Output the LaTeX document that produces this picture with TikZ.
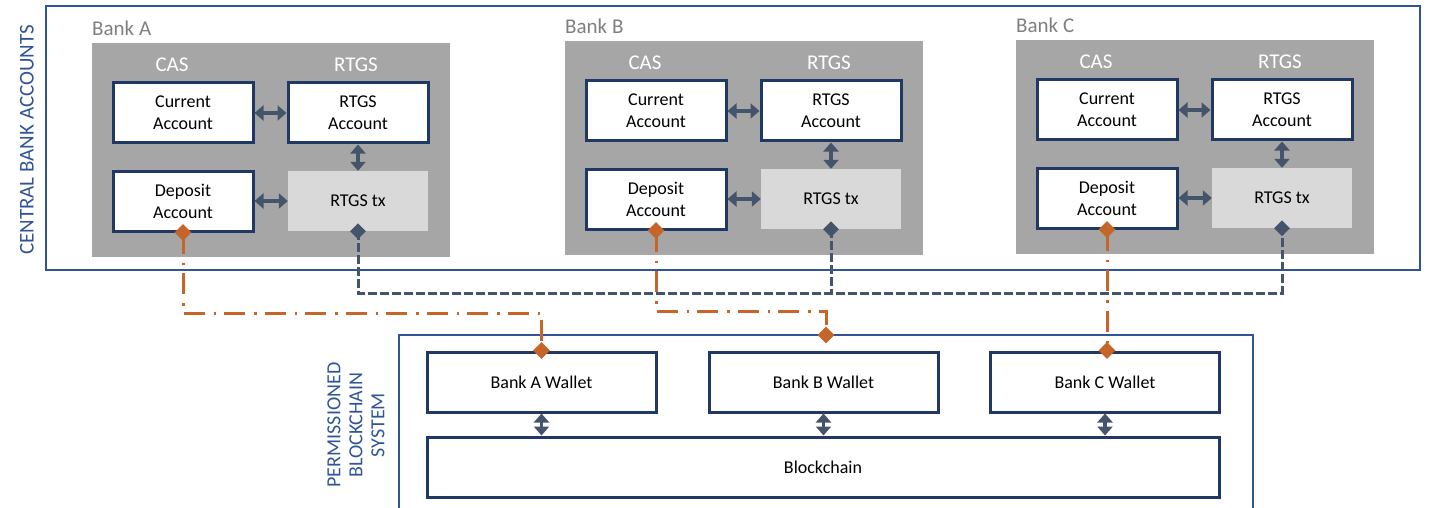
\documentclass[tikz,border=0pt]{standalone}
\usepackage{fontspec}
\setmainfont{Carlito}
\usetikzlibrary{arrows.meta,shapes.geometric}

\definecolor{frameblue}{HTML}{2F5597}
\definecolor{navy}{HTML}{1F3864}
\definecolor{panelgray}{HTML}{A6A6A6}
\definecolor{txgray}{HTML}{D9D9D9}
\definecolor{banklbl}{HTML}{7F7F7F}
\definecolor{slate}{HTML}{44546A}
\definecolor{rust}{HTML}{C5652A}

\tikzset{
  frame/.style={draw=frameblue, line width=2.5pt},
  panelbox/.style={fill=panelgray, minimum width=358pt, minimum height=214pt, inner sep=0pt, outer sep=0pt},
  banktitle/.style={text=banklbl, font=\fontsize{21}{25}\selectfont, inner sep=0pt},
  sectitle/.style={text=white, font=\fontsize{21}{25}\selectfont, inner sep=0pt},
  acct/.style={draw=navy, line width=3pt, fill=white, minimum width=140pt, minimum height=60pt,
               inner sep=0pt, align=center, font=\fontsize{18}{22}\selectfont},
  txbox/.style={fill=txgray, minimum width=140pt, minimum height=60pt, inner sep=0pt,
               font=\fontsize{18}{22}\selectfont},
  wallet/.style={draw=navy, line width=3pt, fill=white, minimum width=229pt, minimum height=60pt,
               inner sep=0pt, font=\fontsize{18}{22}\selectfont},
  biarrow/.style={draw=slate, line width=3.5pt,
               {Triangle[width=15pt,length=9pt]}-{Triangle[width=15pt,length=9pt]}},
  linkline/.style={draw=rust, line width=3pt, dash pattern=on 21pt off 9pt on 2.5pt off 8pt},
  txline/.style={draw=slate, line width=3pt, dash pattern=on 8.5pt off 3.5pt},
  rustdiamond/.style={shape=diamond, fill=rust, minimum width=17pt, minimum height=17pt, inner sep=0pt},
  slatediamond/.style={shape=diamond, fill=slate, minimum width=16pt, minimum height=16pt, inner sep=0pt},
  sidelabel/.style={text=frameblue, rotate=90, align=center, inner sep=0pt}
}

\begin{document}
\begin{tikzpicture}[x=1pt, y=-1pt]
\useasboundingbox (0,0) rectangle (1429,508);

% central bank accounts frame
\node[frame, minimum width=1374pt, minimum height=264pt, inner sep=0pt, outer sep=0pt] (cb) at (733,138) {};
\node[sidelabel, font=\fontsize{21}{25}\selectfont] (cbl) at (27,140) {CENTRAL BANK ACCOUNTS};

% one panel per bank
\foreach \b/\dx/\dy in {A/0/0, B/473/-2, C/924/-3}{
  \begin{scope}[shift={(\dx,\dy)}]
    \node[panelbox] (panel\b) at (271,150) {};
    \node[banktitle, anchor=base west] (lbl\b) at (92,36) {Bank \b};
    \node[sectitle, anchor=base] (cas\b) at (172,72) {CAS};
    \node[sectitle, anchor=base] (rtgs\b) at (356,72) {RTGS};
    \node[acct] (cur\b) at (183,113) {Current\\Account};
    \node[acct] (racc\b) at (358,113) {RTGS\\Account};
    \node[acct] (dep\b) at (183,201) {Deposit\\Account};
    \node[txbox] (tx\b) at (358,201) {RTGS tx};
    \draw[biarrow] (cur\b) -- (racc\b);
    \draw[biarrow] (dep\b) -- (tx\b);
    \draw[biarrow] (racc\b) -- (tx\b);
  \end{scope}
}

% permissioned blockchain frame (open at the bottom)
\coordinate (psBL) at (399,520);
\coordinate (psTR) at (1253,335);
\draw[frame] (psBL) |- (psTR) -- (psTR |- psBL);
\node[sidelabel, font=\fontsize{20}{22}\selectfont] (psl) at (356,425) {PERMISSIONED\\BLOCKCHAIN\\SYSTEM};

\node[wallet] (wA) at (541.5,382) {Bank A Wallet};
\node[wallet] (wB) at (823.5,382) {Bank B Wallet};
\node[wallet] (wC) at (1105,382) {Bank C Wallet};
\node[wallet, minimum width=792pt] (chain) at (823,467) {Blockchain};

\foreach \w in {wA,wB,wC}{
  \draw[biarrow] (\w.south) -- (\w.south |- chain.north);
}

% routing lanes
\coordinate (laneA) at (0,313);
\coordinate (laneB) at (0,311);
\coordinate (txlane) at (0,293);
\coordinate (bJoin) at (826,335);

% RTGS transaction links
\draw[txline] (txA.south) |- (txC.south |- txlane) -- (txC.south);
\draw[txline] (txB.south) -- (txB.south |- txlane);

% deposit account to wallet links
\draw[linkline] (depA.south) -- (depA.south |- laneA) -| (wA.north);
\draw[linkline] (depB.south) -- (depB.south |- laneB) -| (bJoin);
\draw[linkline] (depC.south) -- (depC.south |- wC.north);

% end markers
\node[slatediamond] (tmA) at (txA.south) {};
\node[slatediamond] (tmB) at (txB.south) {};
\node[slatediamond] (tmC) at (txC.south) {};
\node[rustdiamond] (dmA) at (depA.south) {};
\node[rustdiamond] (dmB) at (depB.south) {};
\node[rustdiamond] (dmC) at (depC.south) {};
\node[rustdiamond] (wmA) at (wA.north) {};
\node[rustdiamond] (wmB) at (bJoin) {};
\node[rustdiamond] (wmC) at (depC.south |- wC.north) {};
\end{tikzpicture}
\end{document}
